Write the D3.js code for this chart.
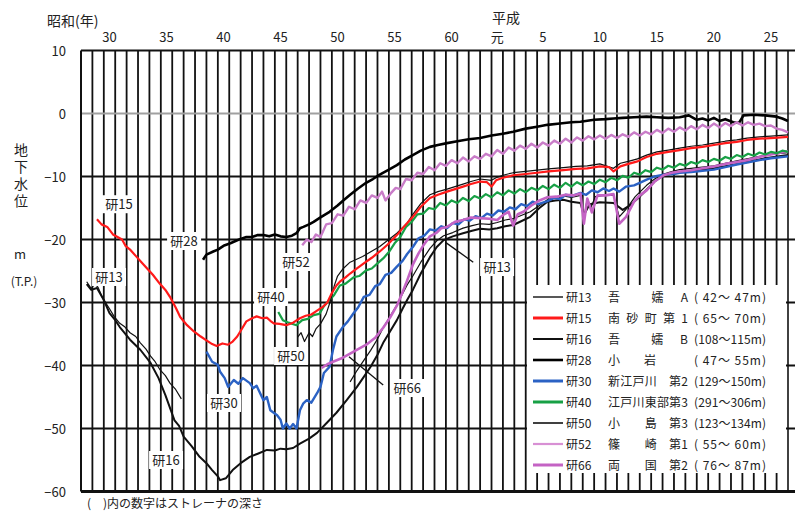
<!DOCTYPE html>
<html><head><meta charset="utf-8">
<script src="https://cdn.jsdelivr.net/npm/d3@7"></script>
<style>body{margin:0;background:#fff}svg{display:block;font-family:"Noto Sans CJK JP","Noto Sans",sans-serif}</style>
</head><body><svg id="c" width="795" height="513"></svg>
<script>
// ---- tick labels ----
const showaYears = [1955,1960,1965,1970,1975,1980,1985];
const showaLabels = ["30","35","40","45","50","55","60"];
const heiseiYears = [1989,1993,1998,2003,2008,2013];
const heiseiLabels = ["元","5","10","15","20","25"];
const yTicks = [10,0,-10,-20,-30,-40,-50,-60];

// ---- legend ----
const ids = ["研13","研15","研16","研28","研30","研40","研50","研52","研66"];
const names = ["吾　　嬬　A","南砂町第1","吾　　嬬　B","小　　岩","新江戸川　第2","江戸川東部第3","小　　島　第3","篠　　崎　第1","両　　国　第2"];
const depths = ["( 42～ 47m)","( 65～ 70m)","(108～115m)","( 47～ 55m)","(129～150m)","(291～306m)","(123～134m)","( 55～ 60m)","( 76～ 87m)"];

// ---- series [year, groundwater level m T.P.] ----
const s13a = [[1953.5,-26.7],[1953.9,-27.8],[1954.2,-27.0],[1954.5,-27.6],[1954.9,-29.3],[1955.5,-31.0],[1955.9,-32.2],[1956.4,-33.3],[1956.8,-33.8],[1957.3,-34.8],[1957.8,-35.4],[1958.2,-36.4],[1958.7,-37.4],[1959.1,-38.5],[1959.5,-39.4],[1959.9,-40.6],[1960.4,-41.6],[1960.8,-42.8],[1961.3,-43.8],[1961.8,-45.3]];
const s13b = [[1976.6,-42.6],[1977.2,-40.8],[1977.8,-39.2],[1978.4,-37.6],[1979.0,-35.8],[1979.5,-34.0],[1980.1,-32.2],[1980.7,-30.4],[1981.2,-28.6],[1981.6,-27.2],[1982.1,-25.8],[1982.8,-23.6],[1983.6,-21.4],[1984.2,-20.2],[1984.8,-19.4],[1985.6,-18.9],[1986.5,-18.2],[1987.3,-17.8],[1988.0,-17.5],[1988.8,-17.6],[1989.5,-17.3],[1990.2,-16.9],[1990.9,-16.7],[1991.6,-16.2],[1992.4,-15.6],[1993.2,-14.6],[1993.9,-13.7],[1994.6,-13.3],[1995.3,-13.1],[1996.0,-13.3],[1996.8,-13.0],[1997.1,-16.6],[1997.4,-13.5],[1997.7,-15.0],[1998.1,-13.2],[1998.9,-13.0],[1999.7,-13.0],[2000.2,-16.4],[2000.8,-15.2],[2001.6,-13.2],[2002.6,-11.4],[2003.3,-10.4],[2004.1,-9.6],[2004.8,-9.2],[2005.5,-8.9],[2006.5,-8.7],[2007.5,-8.5],[2008.5,-8.3],[2009.5,-7.9],[2010.5,-7.5],[2011.4,-7.2],[2012.5,-6.8],[2013.5,-6.5],[2015.0,-6.2]];
const s15 = [[1954.4,-16.8],[1954.8,-17.6],[1955.3,-18.0],[1955.8,-19.2],[1956.2,-19.6],[1956.6,-20.0],[1956.9,-21.0],[1957.3,-21.6],[1957.8,-22.6],[1958.3,-23.6],[1958.8,-24.6],[1959.3,-25.6],[1959.9,-27.0],[1960.4,-28.0],[1960.8,-29.1],[1961.3,-30.8],[1961.7,-32.3],[1962.3,-33.6],[1962.9,-34.6],[1963.5,-35.4],[1964.0,-36.0],[1964.5,-36.6],[1964.9,-36.9],[1965.4,-36.5],[1965.9,-36.7],[1966.3,-36.2],[1966.7,-35.4],[1967.1,-34.2],[1967.5,-33.0],[1968.0,-32.5],[1968.4,-32.2],[1968.9,-32.5],[1969.3,-32.4],[1969.6,-32.9],[1969.9,-33.3],[1970.4,-33.4],[1971.0,-33.6],[1971.6,-33.2],[1972.2,-32.5],[1972.7,-32.1],[1973.2,-31.9],[1973.7,-31.3],[1974.2,-30.7],[1974.6,-30.0],[1975.0,-28.5],[1975.4,-27.3],[1975.7,-26.7],[1976.2,-26.0],[1976.6,-25.4],[1977.2,-24.6],[1977.8,-23.8],[1978.5,-22.9],[1979.2,-21.9],[1979.9,-20.8],[1980.7,-19.3],[1981.4,-17.8],[1982.1,-16.4],[1982.8,-14.8],[1983.6,-13.4],[1984.3,-12.9],[1985.1,-12.4],[1985.8,-12.0],[1986.5,-11.6],[1987.2,-11.2],[1988.0,-10.8],[1988.6,-10.9],[1989.0,-11.6],[1989.4,-10.6],[1990.0,-10.2],[1990.9,-9.8],[1992.0,-9.6],[1993.0,-9.4],[1994.0,-9.2],[1995.3,-9.0],[1996.4,-8.8],[1997.4,-8.7],[1998.5,-8.4],[1999.3,-8.5],[1999.7,-9.2],[2000.3,-8.4],[2001.0,-8.0],[2001.8,-7.6],[2002.6,-6.9],[2003.5,-6.4],[2004.5,-6.1],[2005.5,-5.8],[2006.5,-5.5],[2007.5,-5.3],[2008.5,-5.0],[2009.5,-4.7],[2010.5,-4.5],[2011.4,-4.2],[2012.5,-4.0],[2013.5,-3.9],[2015.0,-3.7]];
const s16 = [[1953.5,-27.1],[1953.9,-28.0],[1954.4,-27.7],[1955.0,-29.6],[1955.5,-31.7],[1956.0,-32.8],[1956.4,-33.9],[1957.3,-35.9],[1958.2,-37.5],[1959.1,-39.6],[1959.8,-42.0],[1960.4,-44.7],[1961.2,-48.7],[1961.6,-49.6],[1962.0,-51.3],[1962.7,-52.8],[1963.4,-54.5],[1964.0,-55.5],[1964.5,-56.6],[1965.0,-57.6],[1965.2,-58.2],[1965.7,-57.9],[1966.3,-56.6],[1967.0,-55.5],[1967.8,-54.5],[1968.5,-54.0],[1969.3,-53.4],[1970.0,-53.5],[1970.5,-53.2],[1971.0,-53.3],[1971.6,-53.1],[1972.2,-52.4],[1973.0,-51.6],[1973.7,-50.7],[1974.5,-49.2],[1975.4,-47.5],[1976.3,-45.5],[1977.2,-43.4],[1977.8,-41.8],[1978.4,-40.2],[1979.0,-38.3],[1979.5,-36.4],[1980.1,-34.6],[1980.7,-32.8],[1981.2,-31.0],[1981.6,-29.6],[1982.1,-28.0],[1982.8,-25.4],[1983.6,-22.8],[1984.2,-21.2],[1984.8,-20.1],[1985.6,-19.5],[1986.5,-19.0],[1987.3,-18.6],[1988.0,-18.3],[1988.8,-18.4],[1989.5,-18.2],[1990.2,-17.9],[1990.9,-17.7],[1991.6,-17.1],[1992.4,-16.4],[1993.2,-15.0],[1993.9,-14.0],[1994.6,-13.8],[1995.3,-13.7],[1996.0,-14.0],[1996.8,-14.2],[1997.1,-16.1],[1997.6,-14.4],[1998.5,-14.1],[1999.7,-14.2],[2000.5,-15.3],[2001.2,-14.5],[2002.0,-13.2],[2002.6,-12.1],[2003.3,-10.8],[2004.1,-9.8],[2005.5,-9.3],[2007.0,-9.0],[2008.5,-8.7],[2010.0,-8.2],[2011.4,-7.7],[2013.0,-7.1],[2015.0,-6.6]];
const s28 = [[1963.7,-23.2],[1964.0,-22.4],[1964.6,-21.9],[1965.0,-21.6],[1965.5,-21.0],[1966.1,-20.6],[1966.6,-20.2],[1967.0,-19.9],[1967.5,-19.6],[1968.0,-19.6],[1968.5,-19.3],[1969.0,-19.3],[1969.5,-19.5],[1970.0,-19.2],[1970.5,-19.5],[1971.0,-19.6],[1971.5,-19.4],[1971.9,-19.0],[1972.2,-18.2],[1972.5,-18.0],[1973.0,-17.6],[1973.4,-17.2],[1974.0,-16.5],[1974.8,-15.6],[1975.5,-14.6],[1976.0,-13.8],[1976.6,-12.9],[1977.3,-11.9],[1978.0,-11.0],[1978.6,-10.4],[1979.2,-9.7],[1980.0,-8.9],[1980.7,-8.2],[1981.4,-7.3],[1982.1,-6.6],[1982.8,-5.9],[1983.6,-5.3],[1984.3,-5.0],[1985.1,-4.7],[1986.0,-4.4],[1987.0,-4.1],[1988.0,-3.9],[1989.0,-3.5],[1990.0,-3.2],[1990.9,-2.9],[1992.0,-2.4],[1993.0,-2.1],[1993.9,-1.8],[1995.0,-1.6],[1996.0,-1.4],[1996.8,-1.3],[1998.0,-1.0],[1999.0,-0.9],[1999.7,-0.8],[2000.5,-0.7],[2001.5,-0.6],[2002.6,-0.5],[2003.5,-0.6],[2004.5,-0.7],[2005.5,-0.6],[2006.3,-0.3],[2007.0,-1.0],[2007.5,-0.8],[2008.0,-1.1],[2008.5,-0.7],[2009.0,-1.2],[2009.5,-0.9],[2010.2,-1.4],[2010.7,-1.5],[2011.1,-0.3],[2012.0,-0.2],[2013.0,-0.3],[2014.0,-0.5],[2014.5,-0.8],[2015.0,-1.2]];
const s30 = [[1964.0,-37.8],[1964.5,-39.4],[1965.0,-39.9],[1965.2,-41.0],[1965.6,-42.0],[1965.9,-43.4],[1966.4,-42.3],[1966.8,-42.9],[1967.2,-42.0],[1967.8,-42.8],[1968.1,-43.6],[1968.4,-43.2],[1969.0,-45.5],[1969.3,-45.0],[1969.6,-47.1],[1970.2,-47.9],[1970.5,-48.6],[1970.7,-50.0],[1971.0,-49.2],[1971.3,-50.0],[1971.6,-49.3],[1971.9,-50.0],[1972.2,-47.1],[1972.5,-46.0],[1972.8,-45.5],[1973.2,-45.9],[1973.7,-44.4],[1974.0,-43.4],[1974.3,-41.2],[1974.8,-40.2],[1975.1,-37.5],[1975.4,-35.4],[1976.0,-33.8],[1976.4,-33.0],[1976.9,-31.7],[1977.3,-30.8],[1977.8,-29.1],[1978.3,-28.8],[1978.8,-27.4],[1979.2,-27.1],[1979.7,-25.6],[1980.2,-25.3],[1980.7,-24.3],[1981.2,-23.4],[1981.6,-22.3],[1982.1,-21.2],[1982.6,-19.8],[1983.1,-19.4],[1983.6,-18.4],[1984.1,-18.6],[1984.6,-17.9],[1985.1,-18.2],[1985.6,-17.4],[1986.1,-17.6],[1986.6,-16.8],[1987.1,-17.0],[1987.6,-16.3],[1988.1,-16.6],[1988.6,-15.9],[1989.1,-16.2],[1989.6,-15.4],[1990.1,-15.6],[1990.6,-14.9],[1991.1,-15.2],[1991.6,-14.4],[1992.1,-14.7],[1992.6,-14.0],[1993.1,-14.4],[1993.9,-13.9],[1994.5,-13.4],[1995.0,-13.6],[1995.5,-12.9],[1996.0,-13.1],[1996.8,-12.6],[1997.3,-12.9],[1997.8,-12.2],[1998.3,-12.5],[1998.8,-11.9],[1999.3,-12.3],[1999.7,-11.9],[2000.2,-12.4],[2000.8,-11.6],[2001.5,-11.4],[2002.0,-11.0],[2002.6,-10.5],[2003.3,-10.0],[2004.1,-9.7],[2005.0,-9.6],[2005.5,-9.4],[2006.5,-9.3],[2007.5,-9.1],[2008.5,-8.9],[2009.5,-8.5],[2010.5,-8.1],[2011.4,-7.8],[2012.5,-7.4],[2013.5,-7.1],[2015.0,-6.8]];
const s40 = [[1970.3,-31.5],[1970.7,-32.8],[1971.2,-33.2],[1971.9,-33.6],[1972.4,-32.8],[1972.9,-32.6],[1973.4,-32.0],[1973.9,-31.8],[1974.3,-30.6],[1974.8,-29.6],[1975.2,-28.8],[1975.7,-27.3],[1976.2,-27.0],[1976.9,-26.0],[1977.4,-25.8],[1978.0,-24.9],[1978.5,-24.6],[1979.0,-23.8],[1979.5,-23.0],[1980.0,-22.0],[1980.5,-20.6],[1981.0,-19.6],[1981.5,-18.0],[1982.0,-17.2],[1982.5,-16.0],[1983.0,-15.9],[1983.5,-15.0],[1984.0,-15.2],[1984.5,-14.2],[1985.0,-14.6],[1985.5,-13.8],[1986.0,-14.2],[1986.5,-13.4],[1987.0,-13.9],[1987.5,-13.1],[1988.0,-13.5],[1988.5,-12.8],[1989.0,-13.3],[1989.5,-12.5],[1990.0,-13.0],[1990.5,-12.2],[1991.0,-12.7],[1991.5,-12.0],[1992.0,-12.5],[1992.5,-11.8],[1993.0,-12.2],[1993.5,-11.5],[1994.0,-12.0],[1994.5,-11.3],[1995.0,-11.8],[1995.5,-11.0],[1996.0,-11.6],[1996.5,-10.9],[1997.0,-11.4],[1997.5,-10.8],[1998.0,-11.2],[1998.5,-10.5],[1999.0,-10.9],[1999.5,-10.2],[2000.0,-10.6],[2000.5,-9.9],[2001.0,-10.2],[2001.5,-9.4],[2002.0,-9.7],[2002.5,-9.0],[2003.0,-9.3],[2003.5,-8.6],[2004.0,-8.9],[2004.5,-8.3],[2005.0,-8.6],[2005.5,-8.0],[2006.0,-8.3],[2006.5,-7.7],[2007.0,-8.0],[2007.5,-7.4],[2008.0,-7.7],[2008.5,-7.2],[2009.0,-7.5],[2009.5,-6.9],[2010.0,-7.2],[2010.5,-6.6],[2011.0,-6.9],[2011.5,-6.4],[2012.0,-6.7],[2012.5,-6.2],[2013.0,-6.5],[2013.5,-6.1],[2014.0,-6.3],[2014.5,-5.9],[2015.0,-6.1]];
const s50 = [[1972.0,-35.5],[1972.3,-34.8],[1972.6,-36.2],[1973.0,-34.8],[1973.3,-35.4],[1973.6,-34.2],[1974.0,-33.4],[1974.5,-31.8],[1974.9,-29.6],[1975.2,-27.4],[1975.5,-25.8],[1976.0,-24.6],[1976.6,-23.6],[1977.7,-22.7],[1979.2,-21.1],[1980.7,-19.0],[1981.6,-17.4],[1982.1,-16.0],[1982.8,-14.3],[1983.6,-12.9],[1984.3,-12.4],[1985.1,-12.0],[1985.8,-11.6],[1986.5,-11.2],[1987.2,-10.8],[1988.0,-10.4],[1989.0,-10.6],[1989.4,-10.2],[1990.0,-9.8],[1990.9,-9.4],[1992.0,-9.2],[1993.0,-9.0],[1994.0,-8.8],[1995.3,-8.6],[1996.4,-8.4],[1997.4,-8.3],[1998.5,-8.0],[1999.7,-8.7],[2000.3,-7.9],[2001.0,-7.6],[2001.8,-7.2],[2002.6,-6.6],[2003.5,-6.1],[2004.5,-5.8],[2005.5,-5.5],[2006.5,-5.2],[2007.5,-5.0],[2008.5,-4.7],[2009.5,-4.4],[2010.5,-4.2],[2011.4,-3.9],[2012.5,-3.7],[2013.5,-3.6],[2015.0,-3.4]];
const s52 = [[1972.4,-20.9],[1972.8,-20.0],[1973.2,-20.4],[1973.6,-19.2],[1974.0,-19.6],[1974.5,-17.6],[1975.0,-17.4],[1975.5,-16.0],[1976.0,-16.2],[1976.5,-14.8],[1977.0,-15.2],[1977.5,-13.8],[1978.0,-14.2],[1978.5,-13.0],[1979.0,-13.4],[1979.4,-12.4],[1979.7,-13.8],[1980.2,-12.6],[1980.6,-11.8],[1981.0,-12.0],[1981.5,-10.4],[1982.0,-10.6],[1982.5,-9.4],[1983.0,-9.6],[1983.5,-8.5],[1984.0,-9.0],[1984.5,-7.9],[1985.0,-8.3],[1985.5,-7.4],[1986.0,-7.9],[1986.5,-7.0],[1987.0,-7.6],[1987.5,-6.8],[1988.0,-7.2],[1988.5,-6.4],[1989.0,-6.8],[1989.5,-5.8],[1990.0,-6.4],[1990.5,-5.4],[1991.0,-5.9],[1991.5,-5.1],[1992.0,-5.6],[1992.5,-4.8],[1993.0,-5.4],[1993.5,-4.6],[1994.0,-5.1],[1994.5,-4.3],[1995.0,-4.8],[1995.5,-4.0],[1996.0,-4.6],[1996.5,-3.8],[1997.0,-4.3],[1997.5,-3.6],[1998.0,-4.1],[1998.5,-3.5],[1999.0,-4.0],[1999.5,-3.4],[2000.0,-3.9],[2000.5,-3.3],[2001.0,-3.7],[2001.5,-3.0],[2002.0,-3.5],[2002.5,-2.9],[2003.0,-3.3],[2003.5,-2.6],[2004.0,-3.1],[2004.5,-2.4],[2005.0,-2.9],[2005.5,-2.2],[2006.0,-2.7],[2006.5,-2.0],[2007.0,-2.5],[2007.5,-1.8],[2008.0,-2.3],[2008.5,-1.6],[2009.0,-2.2],[2009.5,-1.5],[2010.0,-2.0],[2010.5,-1.4],[2011.0,-1.9],[2011.5,-1.4],[2012.0,-1.8],[2012.5,-1.6],[2013.0,-2.0],[2013.5,-1.9],[2014.0,-2.4],[2014.5,-2.6],[2015.0,-3.0]];
const s66 = [[1974.1,-40.4],[1974.6,-39.8],[1975.1,-39.4],[1975.8,-38.9],[1976.6,-38.1],[1977.3,-37.4],[1978.1,-36.6],[1978.8,-35.6],[1979.5,-34.0],[1980.1,-32.4],[1980.7,-30.5],[1981.1,-28.8],[1981.5,-27.0],[1982.1,-24.0],[1982.6,-22.2],[1983.0,-21.0],[1983.6,-19.5],[1984.2,-18.9],[1984.6,-18.2],[1985.1,-18.0],[1985.8,-17.2],[1986.5,-16.9],[1987.2,-16.5],[1988.0,-16.6],[1988.8,-16.7],[1989.5,-16.9],[1990.1,-16.0],[1990.5,-15.6],[1990.9,-17.8],[1991.3,-16.0],[1991.8,-15.6],[1992.5,-14.6],[1993.2,-13.8],[1993.9,-13.3],[1994.7,-13.2],[1995.5,-12.9],[1996.2,-13.0],[1996.8,-12.7],[1997.1,-17.5],[1997.4,-13.5],[1997.8,-15.7],[1998.3,-13.0],[1999.0,-13.0],[1999.7,-12.8],[2000.2,-17.5],[2000.8,-16.4],[2001.5,-14.0],[2002.0,-13.0],[2002.6,-12.2],[2003.3,-10.8],[2004.1,-9.8],[2004.8,-9.4],[2005.5,-9.2],[2006.5,-9.0],[2007.5,-8.7],[2008.5,-8.4],[2009.5,-8.0],[2010.5,-7.7],[2011.4,-7.4],[2012.5,-6.9],[2013.5,-6.5],[2015.0,-6.0]];

// ---- layout ----
const W = 795, H = 513;
const svg = d3.select("#c");
const x = d3.scaleLinear().domain([1953, 2015]).range([81, 788]);
const y = d3.scaleLinear().domain([10, -60]).range([50.5, 491.5]);
const ink = "#222";

// vertical year grid
svg.append("g").selectAll("line").data(d3.range(1954, 2015)).join("line")
  .attr("x1", d => x(d)).attr("x2", d => x(d))
  .attr("y1", y(10)).attr("y2", y(-60))
  .attr("stroke", "#111").attr("stroke-width", 1.8);

// horizontal grid
svg.append("g").selectAll("line").data(yTicks.filter(v => v < 10 && v > -60)).join("line")
  .attr("x1", x(1953)).attr("x2", W)
  .attr("y1", d => y(d)).attr("y2", d => y(d))
  .attr("stroke", d => d === 0 ? "#a0a0a0" : "#111")
  .attr("stroke-width", d => d === 0 ? 2 : 1.8);

// frame
svg.append("line").attr("x1", x(1953)).attr("x2", W).attr("y1", y(10)).attr("y2", y(10)).attr("stroke", "#111").attr("stroke-width", 2);
svg.append("line").attr("x1", x(1953)).attr("x2", W).attr("y1", y(-60)).attr("y2", y(-60)).attr("stroke", "#111").attr("stroke-width", 3);
svg.append("line").attr("x1", x(1953)).attr("x2", x(1953)).attr("y1", y(10)).attr("y2", y(-60)).attr("stroke", "#111").attr("stroke-width", 2);
svg.append("line").attr("x1", x(2015)).attr("x2", x(2015)).attr("y1", y(10)).attr("y2", y(-60)).attr("stroke", "#111").attr("stroke-width", 1.6);

// y tick labels
svg.append("g").selectAll("text").data(yTicks).join("text")
  .attr("x", 66).attr("y", d => y(d) + 5)
  .attr("text-anchor", "end").attr("font-size", 13).attr("fill", ink)
  .text(d => d < 0 ? "−" + Math.abs(d) : d);

// top labels
svg.append("g").selectAll("text").data(showaYears).join("text")
  .attr("x", d => x(d + 0.5)).attr("y", 42).attr("text-anchor", "middle")
  .attr("font-size", 13).attr("fill", ink).text((d, i) => showaLabels[i]);
svg.append("g").selectAll("text").data(heiseiYears).join("text")
  .attr("x", d => x(d + 0.5)).attr("y", 42).attr("text-anchor", "middle")
  .attr("font-size", 13).attr("fill", ink).text((d, i) => heiseiLabels[i]);
svg.append("text").attr("x", 47).attr("y", 26).attr("font-size", 14).attr("fill", ink).text("昭和(年)");
svg.append("text").attr("x", x(1989) + 0.5).attr("y", 23).attr("font-size", 14).attr("fill", ink).text("平成");

// y axis title (vertical)
svg.append("text").attr("x", 21).attr("y", 143)
  .style("writing-mode", "vertical-rl").style("letter-spacing", "3px")
  .attr("font-size", 14).attr("fill", ink).text("地下水位");
svg.append("text").attr("x", 20).attr("y", 259).attr("text-anchor", "middle").attr("font-size", 13).attr("fill", ink).text("m");
svg.append("text").attr("x", 24).attr("y", 286).attr("text-anchor", "middle").attr("font-size", 12).attr("fill", ink).text("(T.P.)");

// footnote
svg.append("text").attr("x", 87).attr("y", 508).attr("font-size", 12).attr("fill", ink).text("(　)内の数字はストレーナの深さ");

// ---- series ----
const line = d3.line().x(d => x(d[0])).y(d => y(d[1])).curve(d3.curveLinear);
const series = [
  {d: s16, c: "#111", w: 2.0},
  {d: s13a, c: "#111", w: 1.2},
  {d: s13b, c: "#111", w: 1.2},
  {d: s28, c: "#000", w: 2.6},
  {d: s30, c: "#2b62c4", w: 2.4},
  {d: s66, c: "#c463c4", w: 2.6},
  {d: s40, c: "#17a045", w: 2.2},
  {d: s50, c: "#111", w: 1.2},
  {d: s15, c: "#ff1a1a", w: 2.2},
  {d: s52, c: "#c97cc8", w: 2.4}
];
svg.append("g").attr("fill", "none").attr("stroke-linejoin", "round").selectAll("path").data(series).join("path")
  .attr("d", s => line(s.d)).attr("stroke", s => s.c).attr("stroke-width", s => s.w);

// leader lines
svg.append("line").attr("x1", x(1979.5)).attr("y1", y(-43.1)).attr("x2", x(1976.5)).attr("y2", y(-38.6)).attr("stroke", "#111").attr("stroke-width", 1.3);
svg.append("line").attr("x1", x(1987.4)).attr("y1", y(-23.6)).attr("x2", x(1985.0)).attr("y2", y(-20.5)).attr("stroke", "#111").attr("stroke-width", 1.3);

// annotation labels
const annot = [
  ["研15", 1956.33, -14.4], ["研13", 1955.46, -25.95], ["研28", 1962.04, -20.24],
  ["研52", 1971.86, -23.57], ["研40", 1969.67, -29.13], ["研50", 1971.42, -38.49],
  ["研30", 1965.54, -45.95], ["研66", 1981.6, -43.57], ["研16", 1960.46, -55.0],
  ["研13", 1989.49, -24.37]
];
const ag = svg.append("g").selectAll("g").data(annot).join("g")
  .attr("transform", d => `translate(${x(d[1])},${y(d[2])})`);
ag.append("rect").attr("x", -17).attr("y", -9).attr("width", 34).attr("height", 18).attr("fill", "#fff");
ag.append("text").attr("y", 5).attr("text-anchor", "middle").attr("font-size", 13).attr("fill", ink).text(d => d[0]);

// ---- legend ----
svg.append("rect").attr("x", 527).attr("y", 285).attr("width", 259).attr("height", 188).attr("fill", "#fff");
const legStyle = [
  {c: "#111", w: 1.4}, {c: "#ff1a1a", w: 3}, {c: "#111", w: 2}, {c: "#000", w: 2.6},
  {c: "#2b62c4", w: 3}, {c: "#17a045", w: 3}, {c: "#111", w: 1.6}, {c: "#d890d4", w: 2.2}, {c: "#c463c4", w: 3}
];
const lg = svg.append("g").selectAll("g").data(ids).join("g")
  .attr("transform", (d, i) => `translate(0,${297 + i * 21})`);
lg.append("line").attr("x1", 533).attr("x2", 563).attr("y1", 0).attr("y2", 0)
  .attr("stroke", (d, i) => legStyle[i].c).attr("stroke-width", (d, i) => legStyle[i].w);
lg.append("text").attr("x", 566).attr("y", 4.5).attr("font-size", 12).attr("fill", ink).text(d => d);
lg.append("text").attr("x", 608).attr("y", 4.5).attr("font-size", 12).attr("fill", ink)
  .each(function(d, i) {
    const t = d3.select(this).text(names[i]);
    if (names[i].length >= 5) t.attr("textLength", 80).attr("lengthAdjust", "spacing");
  });
lg.append("text").attr("x", 694).attr("y", 4.5).attr("font-size", 12).attr("fill", ink)
  .attr("textLength", 72).attr("lengthAdjust", "spacing").text((d, i) => depths[i]);
</script></body></html>
